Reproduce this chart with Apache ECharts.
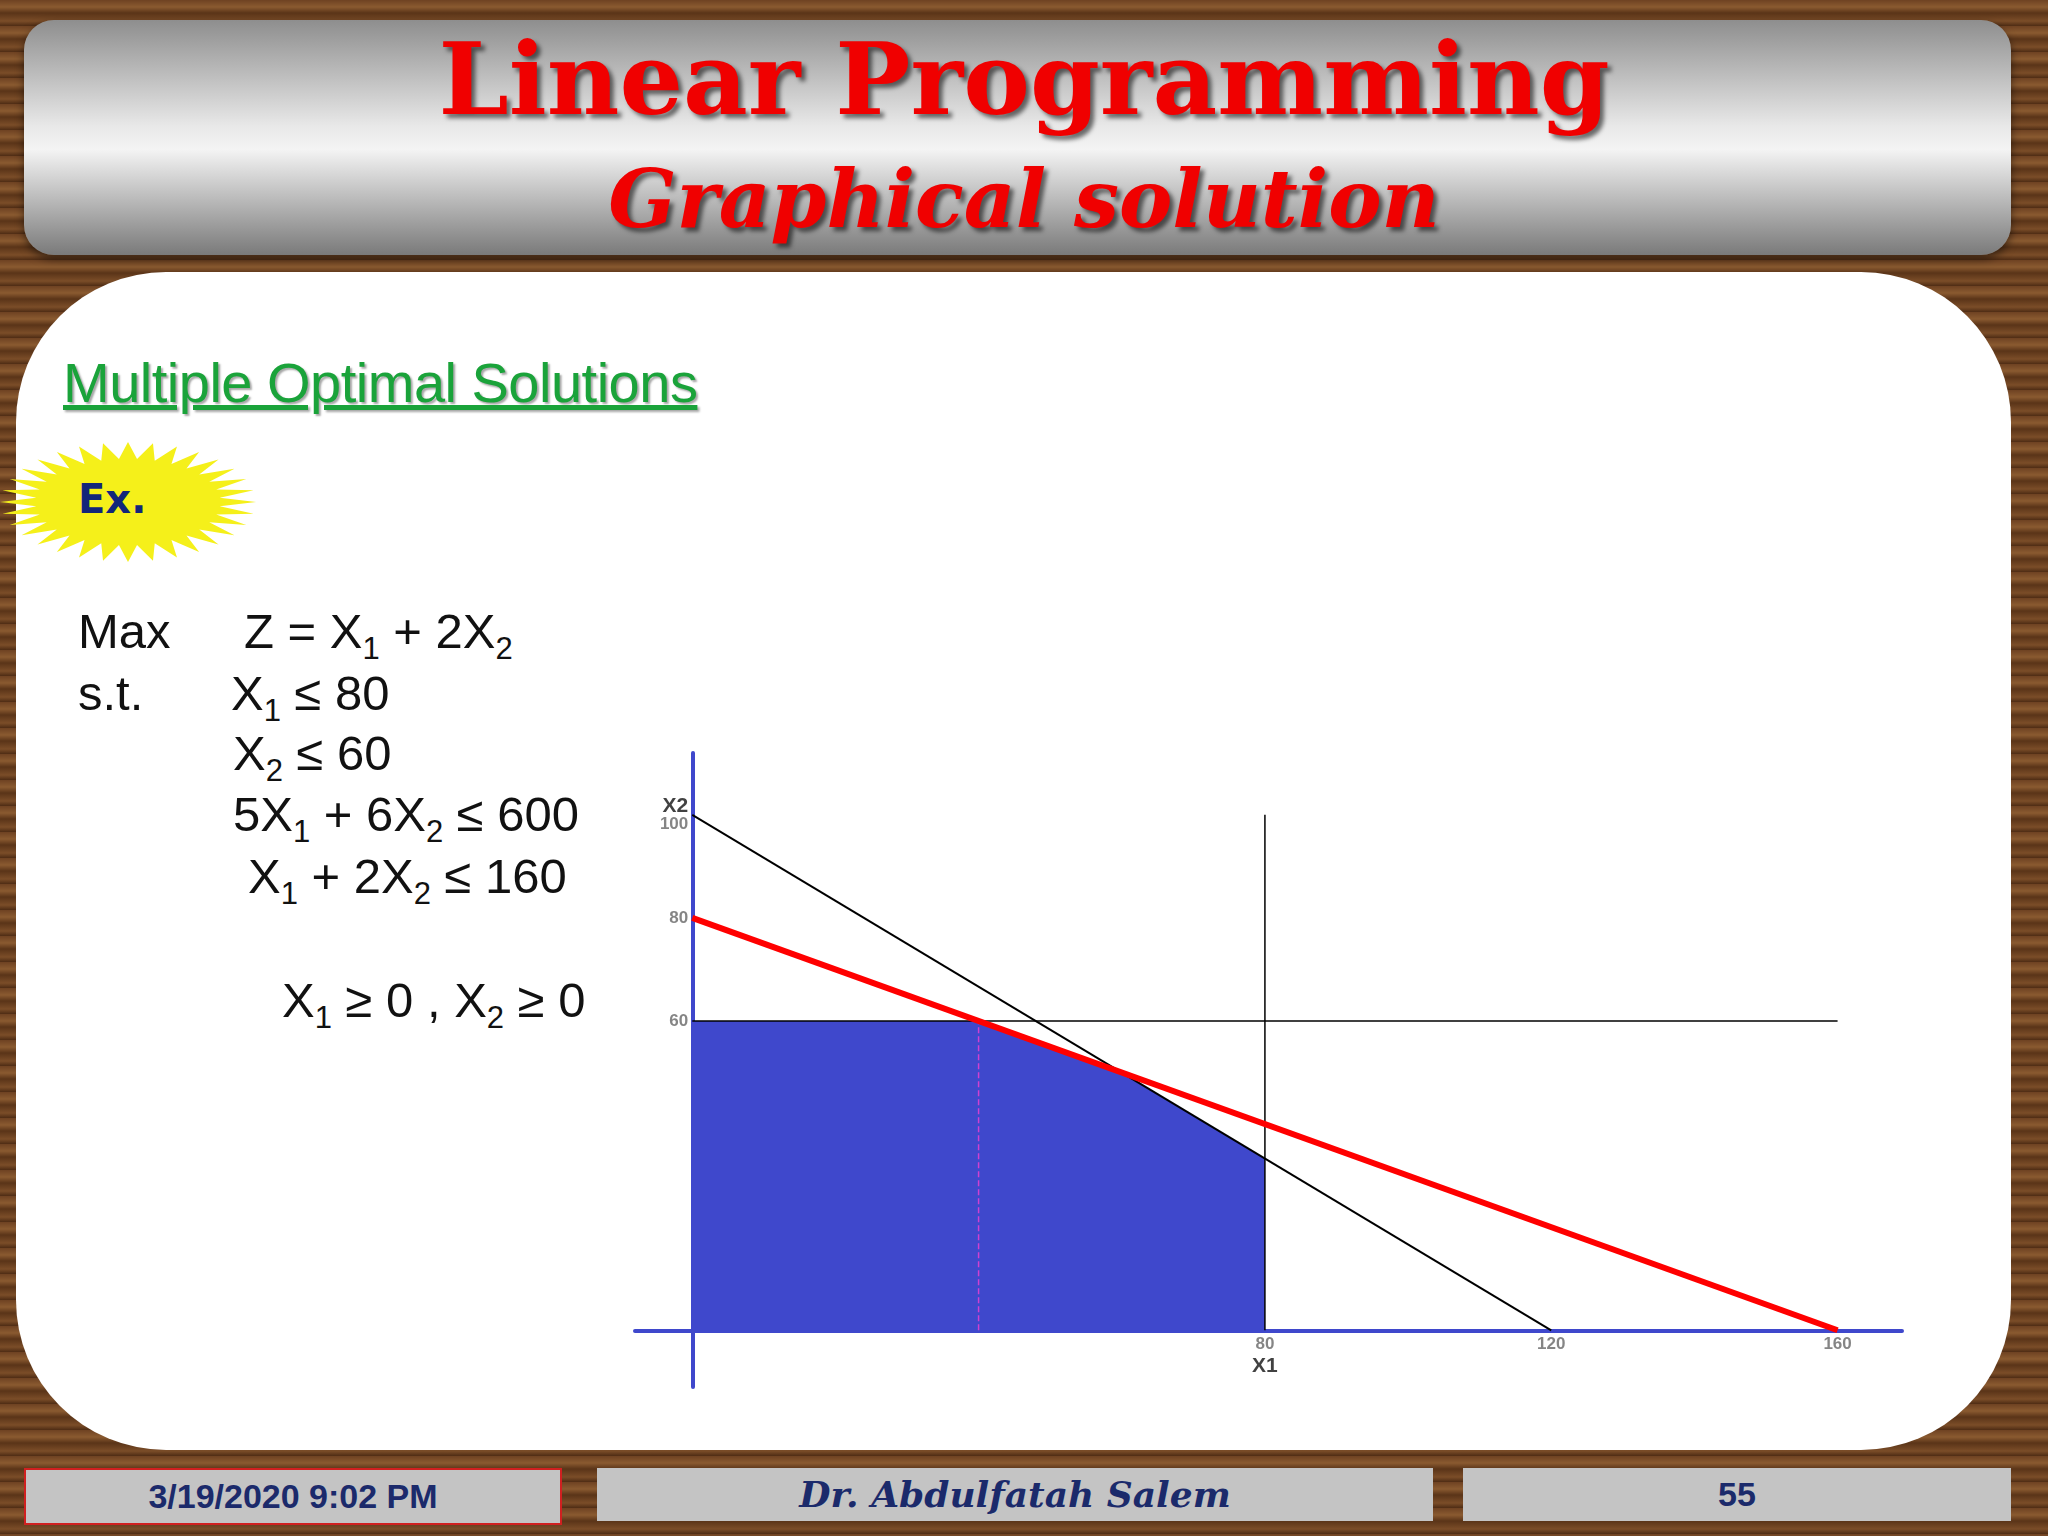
<!DOCTYPE html>
<html><head><meta charset="utf-8">
<script src="https://cdn.jsdelivr.net/npm/echarts@6/dist/echarts.min.js"></script>
<style>
html,body{margin:0;padding:0;width:2048px;height:1536px;overflow:hidden}
body{position:relative;background:repeating-linear-gradient(180deg,#6e4222 0px,#8a5a30 7px,#5a3418 13px,#7b4d28 21px,#4e2c14 26px);font-family:Arial,"Liberation Sans",sans-serif}
.abs{position:absolute}
#banner{left:24px;top:20px;width:1987px;height:235px;border-radius:30px;background:linear-gradient(180deg,#8e8e8e 0%,#e8e8e8 45%,#f4f4f4 55%,#7a7a7a 100%);box-shadow:0 4px 8px rgba(0,0,0,.5)}
.title{color:#f00000;font-family:"DejaVu Serif",serif;font-weight:bold;text-shadow:4px 4px 4px rgba(0,0,0,.55);white-space:nowrap;text-align:center;width:2048px;left:0}
#panel{left:16px;top:272px;width:1995px;height:1178px;border-radius:150px;background:#fff}
#sub{left:63px;top:350px;font-size:56px;color:#1aa33a;text-decoration:underline;text-shadow:2px 2px 2px rgba(0,0,0,.35);white-space:nowrap;letter-spacing:-0.5px}
#star{left:0px;top:442px;width:256px;height:120px;background:#f5f01a;filter:drop-shadow(2px 2px 2px #777)}
#ex{left:78px;top:476px;font-size:40px;font-weight:bold;color:#12267a;font-family:"DejaVu Sans",sans-serif}
.eq{font-size:49px;color:#111;white-space:nowrap}
.eq sub{font-size:31px}
.foot{top:1468px;height:53px;background:#c4c4c4;color:#1b2a6b;font-weight:bold;text-align:center;line-height:53px}
#chart{left:0;top:0;width:2048px;height:1536px}
</style></head><body>
<div id="banner" class="abs"></div>
<div class="abs title" style="top:20px;font-size:100px">Linear Programming</div>
<div class="abs title" style="top:152px;font-size:80px;font-style:italic">Graphical solution</div>
<div id="panel" class="abs"></div>
<div id="sub" class="abs">Multiple Optimal Solutions</div>
<div id="star" class="abs"></div>
<div id="ex" class="abs">Ex.</div>
<div class="abs eq" style="left:78px;top:603px">Max</div>
<div class="abs eq" style="left:244px;top:603px">Z = X<sub>1</sub> + 2X<sub>2</sub></div>
<div class="abs eq" style="left:78px;top:665px">s.t.</div>
<div class="abs eq" style="left:231px;top:665px">X<sub>1</sub> ≤ 80</div>
<div class="abs eq" style="left:233px;top:725px">X<sub>2</sub> ≤ 60</div>
<div class="abs eq" style="left:233px;top:786px">5X<sub>1</sub> + 6X<sub>2</sub> ≤ 600</div>
<div class="abs eq" style="left:248px;top:848px">X<sub>1</sub> + 2X<sub>2</sub> ≤ 160</div>
<div class="abs eq" style="left:282px;top:972px">X<sub>1</sub> ≥ 0 , X<sub>2</sub> ≥ 0</div>
<div class="abs foot" style="left:24px;width:534px;border:2px solid #d02020;font-size:34px">3/19/2020 9:02 PM</div>
<div class="abs foot" style="left:597px;width:836px;font-family:'DejaVu Serif',serif;font-style:italic;font-size:36px;font-weight:bold">Dr. Abdulfatah Salem</div>
<div class="abs foot" style="left:1463px;width:548px;font-size:34px">55</div>
<div id="chart" class="abs"></div>
<script>
(function(){var p=[],n=32;for(var i=0;i<n*2;i++){var a=Math.PI*i/n,r=i%2?0.72:1;p.push((50+50*r*Math.cos(a))+'% '+(50+50*r*Math.sin(a))+'%');}
document.getElementById('star').style.clipPath='polygon('+p.join(',')+')';})();

const xTicks=[80,120,160];
const yTicks=[60,80,100];
const feasible=[[0,60],[40,60],[60,50],[80,33.33],[80,0]];
const lineC3=[[0,100],[120,0]];
const lineObj=[[0,80],[160,0]];
const lineX1=[[80,0],[80,100]];
const lineX2=[[0,60],[160,60]];
const lineAlt=[[40,0],[40,60]];

const chart=echarts.init(document.getElementById('chart'));
chart.setOption({
  animation:false,
  grid:{left:635,right:146,top:753,bottom:149},
  xAxis:{type:'value',min:-8,max:169,
    axisLine:{onZero:true,lineStyle:{color:'#3f48cc',width:4}},axisTick:{show:false},splitLine:{show:false},axisLabel:{show:false}},
  yAxis:{type:'value',min:-11,max:112,
    axisLine:{onZero:true,lineStyle:{color:'#3f48cc',width:4}},axisTick:{show:false},splitLine:{show:false},axisLabel:{show:false}},
  series:[
    {type:'line',data:feasible,symbol:'none',lineStyle:{width:0},areaStyle:{color:'#3f48cc',opacity:1,origin:0},z:1},
    {type:'line',data:lineX1,symbol:'none',lineStyle:{color:'#000',width:1.5},z:3},
    {type:'line',data:lineX2,symbol:'none',lineStyle:{color:'#000',width:1.5},z:3},
    {type:'line',data:lineAlt,symbol:'none',lineStyle:{color:'#d040d0',width:1.5,type:'dashed'},z:4},
    {type:'line',data:lineC3,symbol:'none',lineStyle:{color:'#000',width:2},z:4},
    {type:'line',data:lineObj,symbol:'none',lineStyle:{color:'#ff0000',width:6},z:5},
    {type:'scatter',symbolSize:0,data:xTicks.map(v=>[v,0]),z:6,
      label:{show:true,position:'bottom',distance:6,color:'#666',fontSize:17,fontWeight:'bold',
        formatter:p=>p.value[0]===80?'80\n{b|X1}':String(p.value[0]),rich:{b:{color:'#111',fontSize:21,fontWeight:'bold',lineHeight:26}}}},
    {type:'scatter',symbolSize:0,data:yTicks.map(v=>[0,v]),z:6,
      label:{show:true,position:'left',distance:4,color:'#666',fontSize:17,fontWeight:'bold',align:'right',
        formatter:p=>p.value[1]===100?'{b|X2}\n100':String(p.value[1]),rich:{b:{color:'#111',fontSize:21,fontWeight:'bold',lineHeight:18}}}}
  ]
});
</script>
</body></html>
